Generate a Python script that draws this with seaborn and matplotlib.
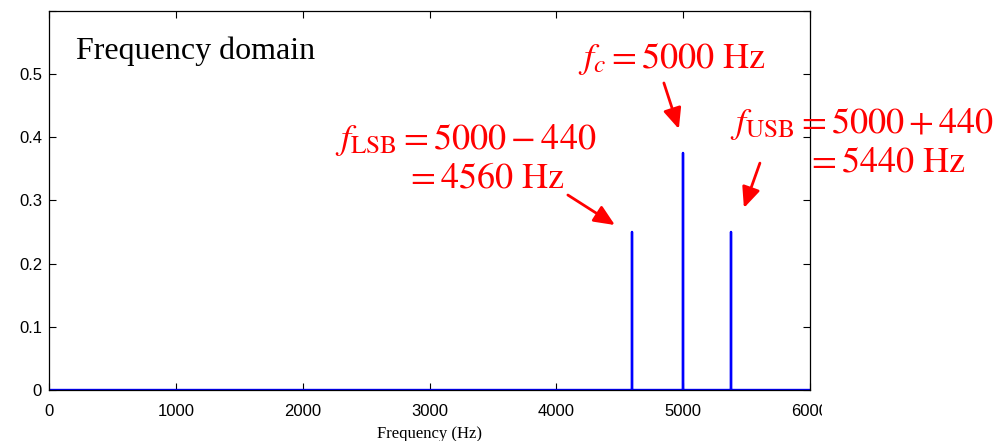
import numpy as np
import pandas as pd
import matplotlib
matplotlib.use('Agg')
import matplotlib.pyplot as plt
import seaborn as sns
from matplotlib.transforms import Bbox

# spectrum data
spike_freq = [4600, 5000, 5380]
spike_amp = [0.25, 0.375, 0.25]
f_range = [0, 6000]
x_ticks = [0, 1000, 2000, 3000, 4000, 5000, 6000]
y_ticks = [0, 0.1, 0.2, 0.3, 0.4, 0.5, 0.6]
y_tick_labels = ['0', '0.1', '0.2', '0.3', '0.4', '0.5', '']

# line through baseline and spikes
xs, ys = [f_range[0]], [0]
for f, a in zip(spike_freq, spike_amp):
    xs += [f, f, f]
    ys += [0, a, 0]
xs.append(f_range[1])
ys.append(0)
spec = pd.DataFrame({'freq': xs, 'amp': ys})

sns.set_style('ticks')
plt.rcParams['font.family'] = ['Liberation Sans', 'DejaVu Sans']
plt.rcParams['mathtext.fontset'] = 'stix'
plt.rcParams['text.color'] = 'black'

fig = plt.figure(figsize=(10.07, 4.41), dpi=100)
ax = fig.add_axes([49/1007, 1 - 390/441, (810-49)/1007, (390-10.8)/441])

sns.lineplot(data=spec, x='freq', y='amp', sort=False, estimator=None,
             color='blue', lw=1.7, ax=ax)

ax.set_xlim(0, 6000)
ax.set_ylim(0, 0.6)
ax.set_xticks(x_ticks)
ax.set_xticklabels([str(t) for t in x_ticks])
ax.set_yticks(y_ticks)
ax.set_yticklabels(y_tick_labels)
ax.tick_params(direction='in', top=True, right=True, length=5, width=0.8,
               labelsize=12, colors='black')
ax.tick_params(axis='x', pad=10)
ax.tick_params(axis='y', pad=5)
for s in ax.spines.values():
    s.set_color('black')
    s.set_linewidth(0.9)
ax.set_xlabel('Frequency (Hz)', family='Liberation Serif', fontsize=12,
              labelpad=5, color='black')
ax.set_ylabel('')

ax.text(213, 0.5237, 'Frequency domain', family='Liberation Serif', fontsize=23,
        va='baseline', ha='left', color='black')

red = (1, 0, 0)
tsize = 26
ax.text(4170, 0.5095, r'$f_c = 5000\ \mathrm{Hz}$', color=red, fontsize=tsize,
        va='baseline', ha='left')
ax.text(2255, 0.381, r'$f_{\mathrm{LSB}} = 5000 - 440$', color=red, fontsize=tsize,
        va='baseline', ha='left')
ax.text(2806, 0.321, r'$= 4560\ \mathrm{Hz}$', color=red, fontsize=tsize,
        va='baseline', ha='left')
ax.text(5368, 0.4066, r'$f_{\mathrm{USB}} = 5000 + 440$', color=red, fontsize=tsize,
        va='baseline', ha='left', clip_on=False)
ax.text(5968, 0.345, r'$= 5440\ \mathrm{Hz}$', color=red, fontsize=tsize,
        va='baseline', ha='left', clip_on=False)

arrow = dict(arrowstyle='-|>,head_length=1.25,head_width=0.55', color=red, lw=2,
             shrinkA=0, shrinkB=0)
ax.annotate('', xy=(4966, 0.413), xytext=(4848, 0.4858), arrowprops=arrow)
ax.annotate('', xy=(4462, 0.261), xytext=(4091, 0.3085), arrowprops=arrow)
ax.annotate('', xy=(5479, 0.288), xytext=(5605, 0.359), arrowprops=arrow,
            annotation_clip=False)

# last tick label is cut off in the original export
lab = ax.get_xticklabels()[-1]
lab.set_clip_box(Bbox.from_extents(0, 0, 822, 441))
lab.set_clip_on(True)

fig.savefig('out.png', dpi=100)
